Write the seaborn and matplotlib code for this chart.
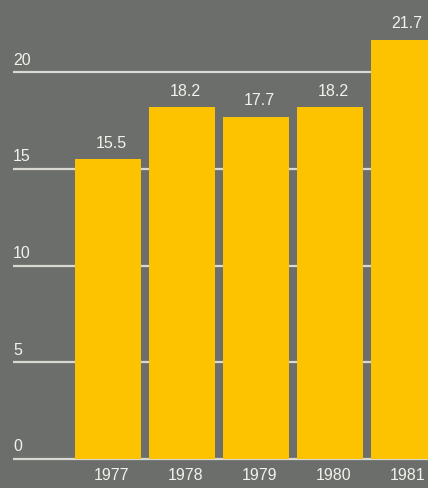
import matplotlib
matplotlib.use("Agg")
import matplotlib.pyplot as plt
import seaborn as sns
import pandas as pd

years = ["1977", "1978", "1979", "1980", "1981"]
values = [15.5, 18.2, 17.7, 18.2, 21.7]
y_ticks = [0, 5, 10, 15, 20]

bg = "#6c6e6c"
bar_color = "#fdc300"
text_color = "#f2f2ec"
grid_color = "#d9d9d2"

sns.set_theme(style="white")
plt.rcParams["font.family"] = ["Liberation Sans", "DejaVu Sans"]

df = pd.DataFrame({"year": years, "value": values})

fig = plt.figure(figsize=(4.28, 4.89), dpi=100, facecolor=bg)
ax = fig.add_axes([0, 0, 1, 1])
ax.set_facecolor(bg)

x_left, x_right = -1.459, 4.324
y_bottom, y_top = -1.5, 23.8

# horizontal reference lines behind the bars
ax.hlines(y_ticks, -1.284, x_right, colors=grid_color, linewidth=1.6, zorder=1)

sns.barplot(data=df, x="year", y="value", color=bar_color, width=0.9,
            saturation=1, linewidth=0, edgecolor="none", ax=ax, zorder=2)

fs = 11.5
for i, v in enumerate(values):
    ax.text(i + 0.04, v + 0.5, f"{v:.1f}", ha="center", va="bottom",
            color=text_color, fontsize=fs, zorder=3)
    ax.text(i + 0.05, -0.8, years[i], ha="center", va="center",
            color=text_color, fontsize=fs, zorder=3)

for t in y_ticks:
    ax.text(-1.284, t + 0.3, str(t), ha="left", va="bottom",
            color=text_color, fontsize=fs, zorder=3)

ax.set_xlim(x_left, x_right)
ax.set_ylim(y_bottom, y_top)
ax.set_axis_off()

fig.savefig("out.png", dpi=100, facecolor=bg)
